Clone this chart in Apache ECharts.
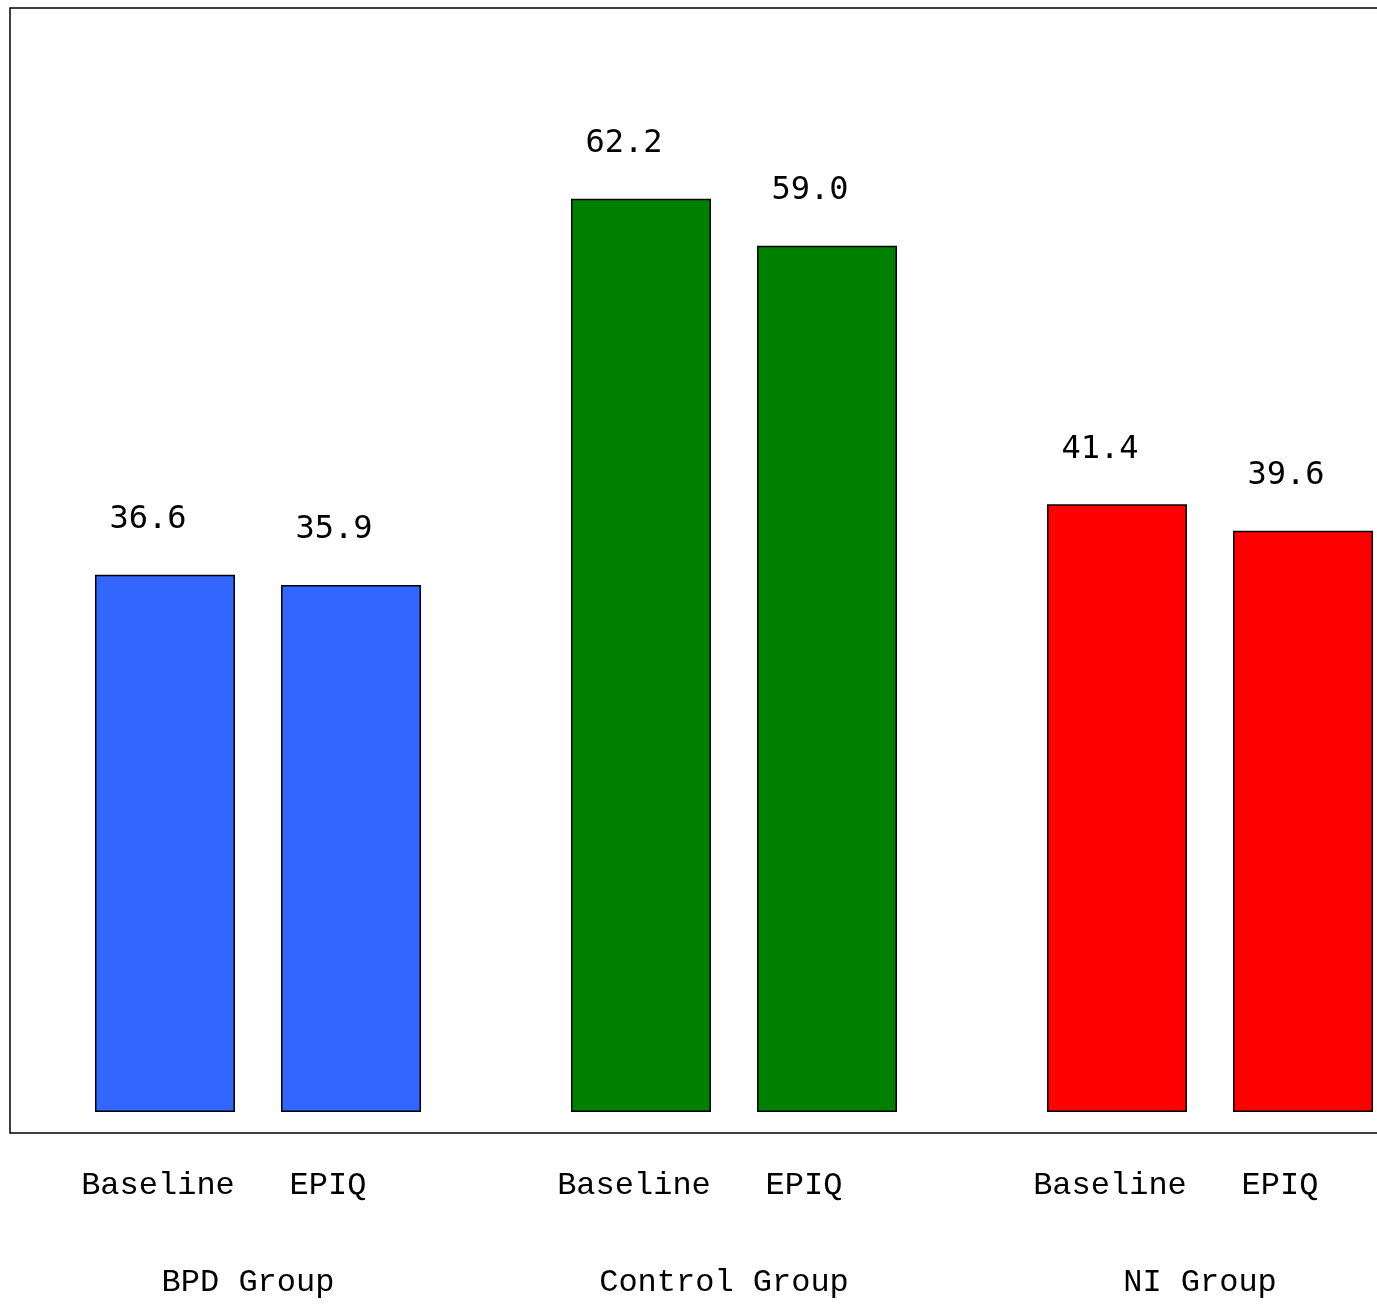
<!DOCTYPE html>
<html>
<head>
<meta charset="utf-8">
<script src="https://cdn.jsdelivr.net/npm/echarts@6/dist/echarts.min.js"></script>
<style>
html,body{margin:0;padding:0;background:#fff;}
#chart{width:1377px;height:1306px;}
</style>
</head>
<body>
<div id="chart"></div>
<script>
// ---- data ----
const groups = ['BPD Group', 'Control Group', 'NI Group'];
const seriesNames = ['Baseline', 'EPIQ'];
const baselineValues = [36.6, 62.2, 41.4];
const epiqValues = [35.9, 59.0, 39.6];
const groupColors = ['#3366FF', '#008000', '#FF0000'];

const monoValue = '"DejaVu Sans Mono", monospace';
const monoAxis = '"Liberation Mono", "Courier New", monospace';

function barData(vals) {
  return vals.map((v, i) => ({ value: v, itemStyle: { color: groupColors[i] } }));
}
function zeroData() { return groups.map(() => 0); }

function valueSeries(name, vals, stack) {
  return {
    name: name, type: 'bar', stack: stack, barWidth: 140, barGap: '32.9%',
    data: barData(vals),
    itemStyle: { borderColor: '#000', borderWidth: 1.5 },
    label: {
      show: true, position: 'top', distance: 39, offset: [-17, 0],
      fontFamily: monoValue, fontSize: 32, color: '#000',
      formatter: p => Number(p.value).toFixed(1)
    }
  };
}
function nameSeries(name, stack, dx) {
  return {
    name: name + ' label', type: 'bar', stack: stack, barWidth: 140, barGap: '32.9%',
    data: zeroData(), itemStyle: { color: 'transparent' },
    label: {
      show: true, position: 'bottom', distance: 58, offset: [dx, 0],
      fontFamily: monoAxis, fontSize: 32, color: '#000',
      formatter: () => name
    }
  };
}

const chart = echarts.init(document.getElementById('chart'), null, { renderer: 'canvas' });
chart.setOption({
  animation: false,
  backgroundColor: '#fff',
  grid: [
    { left: 20, width: 1428, top: 8, bottom: 173, outerBoundsMode: 'none', containLabel: false },
    { left: 10, width: 1390, top: 8, bottom: 173, outerBoundsMode: 'none', containLabel: false,
      show: true, borderColor: '#000', borderWidth: 1.5, backgroundColor: 'transparent', z: 10 }
  ],
  xAxis: [
    {
      type: 'category', data: groups, gridIndex: 0,
      axisLine: { show: false }, axisTick: { show: false },
      axisLabel: { fontFamily: monoAxis, fontSize: 32, color: '#000', margin: 134,
        padding: [0, 20, 0, 0], formatter: v => v },
      splitLine: { show: false }
    },
    { type: 'value', gridIndex: 1, show: false, min: 0, max: 1 }
  ],
  yAxis: [
    { type: 'value', gridIndex: 0, min: -1.43, max: 75.2, show: false, splitLine: { show: false } },
    { type: 'value', gridIndex: 1, show: false, min: 0, max: 1 }
  ],
  series: [
    nameSeries(seriesNames[0], 'a', -7),
    valueSeries(seriesNames[0], baselineValues, 'a'),
    nameSeries(seriesNames[1], 'b', -23),
    valueSeries(seriesNames[1], epiqValues, 'b')
  ]
});
</script>
</body>
</html>
